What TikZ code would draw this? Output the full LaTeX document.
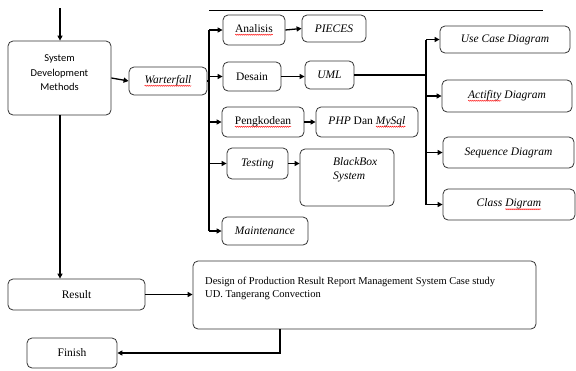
\documentclass[tikz,border=0pt]{standalone}
\usepackage{fontspec}
\setmainfont{Liberation Serif}
\newfontfamily\carlfont{Carlito}
\usetikzlibrary{arrows.meta,decorations.pathmorphing}
\newcommand\redwave[1]{\tikz[baseline=(w.base)]{\node[draw=none,fill=none,minimum width=0pt,minimum height=0pt,inner sep=0pt,outer sep=0pt,rounded corners=0pt] (w) {#1};
  \draw[red, line width=0.4pt, rounded corners=0pt, decorate, decoration={snake,amplitude=0.6pt,segment length=2pt}] ([yshift=-2.2pt]w.base west) -- ([yshift=-2.2pt]w.base east);}}
\tikzset{
  box/.style={draw=black!80, line width=0.8pt, rounded corners=5pt, inner sep=0pt, align=center,
    font=\rmfamily\fontsize{11.5}{13}\selectfont},
  arr/.style={line width=1.3pt, -{Triangle[length=5pt,width=5pt]}},
  thk/.style={line width=2.4pt},
  ln/.style={line width=1.3pt},
}
\begin{document}
\begin{tikzpicture}[x=1pt,y=-1pt]
\useasboundingbox (0,0) rectangle (576,370);
% nodes
\node[box, minimum width=103pt, minimum height=74pt, font=\carlfont\fontsize{10.5}{14.5}\selectfont] (sdm) at (59.5,78) {};
\node[inner sep=0pt, align=center, font=\carlfont\fontsize{10.5}{14.5}\selectfont] (sdmt) at (59.5,73) {System\\Development\\Methods};
\node[box, minimum width=78pt, minimum height=28pt] (wf) at (168,81) {\itshape\redwave{Warterfall}};
\node[box, minimum width=62pt, minimum height=30pt] (ana) at (254,30) {\redwave{Analisis}};
\node[box, minimum width=64pt, minimum height=27pt] (pie) at (334,28.5) {\itshape PIECES};
\node[box, minimum width=58pt, minimum height=29pt] (des) at (252,76.5) {Desain};
\node[box, minimum width=49pt, minimum height=28pt] (uml) at (329.5,75) {\itshape UML};
\node[box, minimum width=82pt, minimum height=30pt] (pen) at (263,122) {\redwave{Pengkodean}};
\node[box, minimum width=102pt, minimum height=30pt] (php) at (367,122) {\textit{PHP} Dan \textit{\redwave{MySql}}};
\node[box, minimum width=61pt, minimum height=31pt] (tes) at (257.5,163.5) {\itshape Testing};
\node[box, minimum width=94pt, minimum height=57pt] (bb) at (347,177.5) {};
\node[anchor=north west, inner sep=0pt, align=left, font=\rmfamily\itshape\fontsize{11.5}{14}\selectfont] (bbt) at (333,157) {BlackBox\\System};
\node[box, minimum width=86pt, minimum height=28pt] (mai) at (265,231) {\itshape Maintenance};
\node[box, minimum width=130pt, minimum height=27pt] (uc) at (505,39.5) {\itshape Use Case Diagram};
\node[box, minimum width=130pt, minimum height=32pt] (act) at (507,96) {\itshape\redwave{Actifity} Diagram};
\node[box, minimum width=131pt, minimum height=31pt] (seq) at (508.5,152.5) {\itshape Sequence Diagram};
\node[box, minimum width=132pt, minimum height=31pt] (cls) at (509,204.5) {\itshape Class \redwave{Digram}};
\node[box, minimum width=137pt, minimum height=31pt] (res) at (76.5,294.5) {Result};
\node[box, minimum width=343pt, minimum height=68pt] (dsg) at (364.5,295) {};
\node[anchor=north west, inner sep=0pt, align=left, font=\rmfamily\fontsize{10.5}{13}\selectfont] (dsgt) at (205,277) {Design of Production Result Report Management System Case study\\UD. Tangerang Convection};
\node[box, minimum width=90pt, minimum height=30pt] (fin) at (72,353) {Finish};
% coordinates
\coordinate (top) at (60,8);
\coordinate (tl) at (209,10);
\coordinate (tr) at (543,10);
\coordinate (tx) at (209,0);
\coordinate (ux) at (426,0);
\coordinate (dx) at (280,0);
% connectors
\draw[line width=1pt] (tl) -- (tr);
\draw[arr] (top) -- (top |- sdm.north);
\draw[arr] (top |- sdm.south) -- (top |- res.north);
\draw[arr] (sdm.east) -- (wf.west);
\draw[ln] (wf.east) -- (tx |- wf.east);
\draw[ln] (tx |- ana.west) -- (tx |- mai.west);
\foreach \n in {ana,des,pen,tes,mai} \draw[arr] (tx |- \n.west) -- (\n.west);
\draw[arr] (ana.east) -- (pie.west);
\draw[arr] (des.east) -- (uml.west |- des.east);
\draw[arr] (pen.east) -- (php.west);
\draw[arr] (tes.east) -- (bb.west |- tes.east);
\draw[thk] (uml.east) -- (ux |- uml.east);
\draw[thk] (ux |- uc.west) -- (ux |- cls.west);
\foreach \n in {uc,act,seq,cls} \draw[arr] (ux |- \n.west) -- (\n.west);
\draw[arr] (res.east) -- (dsg.west |- res.east);
\draw[arr] (dx |- dsg.south) -- (dx |- fin.east) -- (fin.east);
\end{tikzpicture}
\end{document}
